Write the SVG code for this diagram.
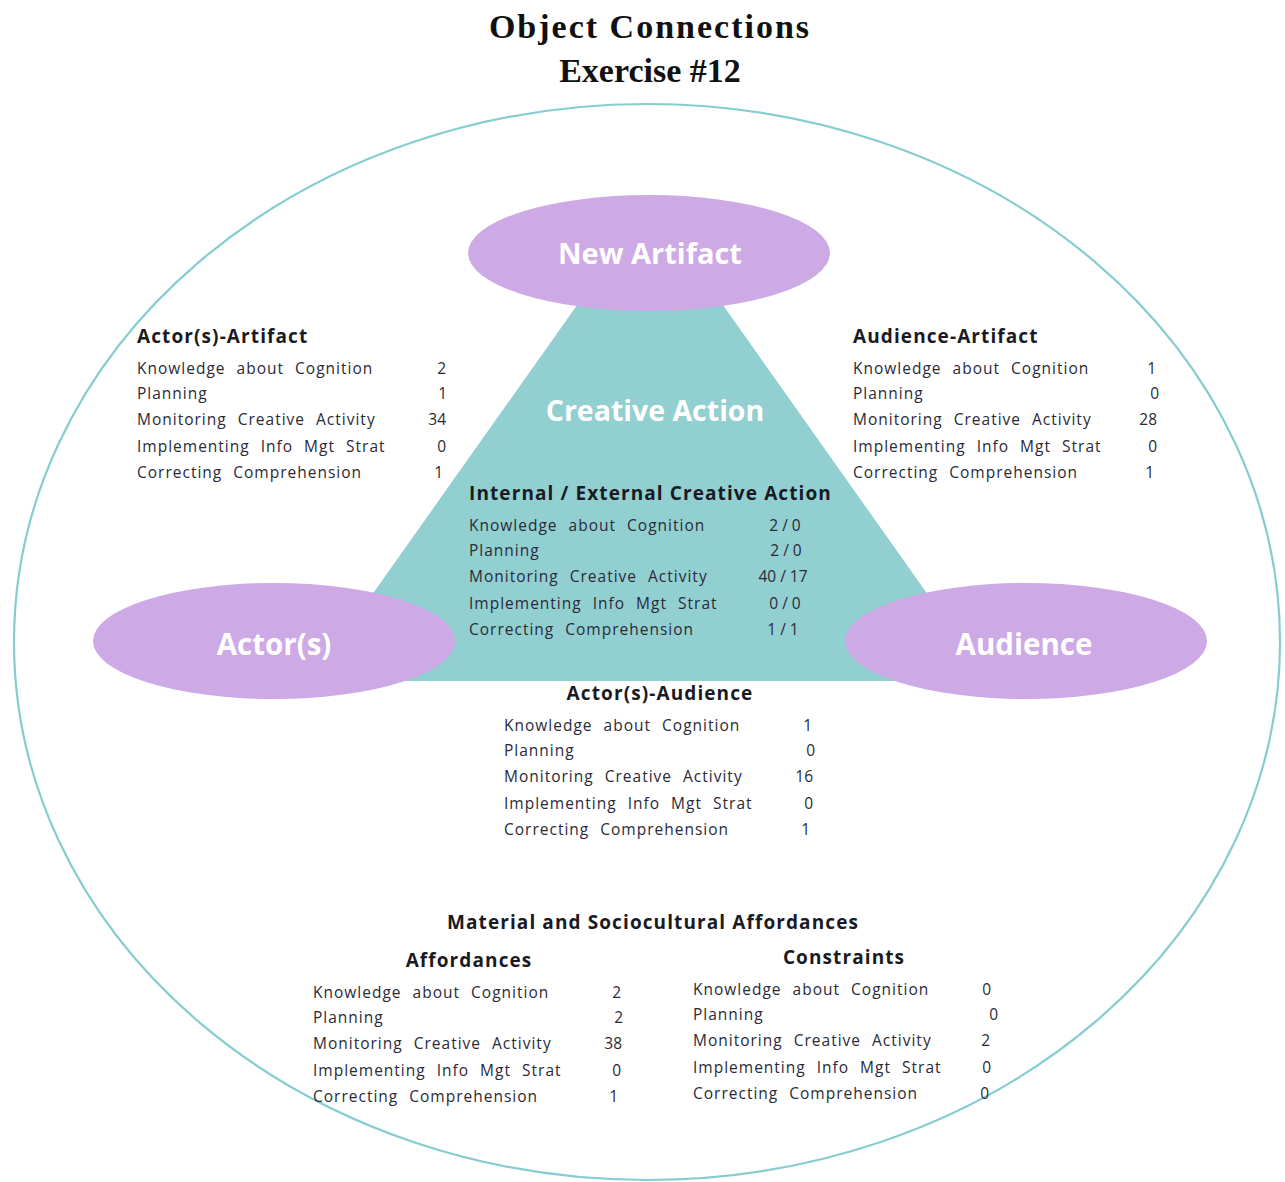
<svg xmlns="http://www.w3.org/2000/svg" width="1285" height="1182" viewBox="0 0 1285 1182">
  <style>
    .title { font-family: "Liberation Serif", "Times New Roman", serif; font-weight: bold; font-size: 34px; fill: #111; text-anchor: middle; }
    .node-fill { fill: #cdaae5; }
    .node-label { font-family: "Open Sans", "Liberation Sans", sans-serif; font-weight: bold; fill: #ffffff; text-anchor: middle; }
    .head { font-family: "Open Sans", "Liberation Sans", sans-serif; font-weight: bold; font-size: 19px; fill: #1a1a24; letter-spacing: 1.1px; }
    .row { font-family: "Open Sans", "Liberation Sans", sans-serif; font-size: 15.5px; fill: #2a2a38; letter-spacing: 1px; word-spacing: 6px; }
    .num { font-family: "Open Sans", "Liberation Sans", sans-serif; font-size: 15.5px; fill: #2a2a38; text-anchor: end; }
    .numc { font-family: "Open Sans", "Liberation Sans", sans-serif; font-size: 15.5px; fill: #2a2a38; text-anchor: middle; }
  </style>

  <rect width="1285" height="1182" fill="#ffffff"/>

  <!-- Title -->
  <text class="title" x="650" y="38" letter-spacing="2">Object Connections</text>
  <text class="title" x="650" y="82" font-size="35">Exercise #12</text>

  <!-- Outer context ellipse -->
  <g id="context">
    <ellipse cx="647" cy="642" rx="633" ry="538" fill="none" stroke="#86cdcf" stroke-width="2.2"/>
  </g>

  <!-- Creative action triangle -->
  <g id="creative-action">
    <polygon points="650,202 311,681 989,681" fill="#92cfd1"/>
    <text class="node-label" x="655" y="421" font-size="28.5">Creative Action</text>
    <text class="head" x="469" y="500">Internal / External Creative Action</text>
    <text class="row" x="469" y="531">Knowledge about Cognition</text>
    <text class="row" x="469" y="556">Planning</text>
    <text class="row" x="469" y="582">Monitoring Creative Activity</text>
    <text class="row" x="469" y="609">Implementing Info Mgt Strat</text>
    <text class="row" x="469" y="635">Correcting Comprehension</text>
    <text class="numc" x="785" y="531">2 / 0</text>
    <text class="numc" x="786" y="556">2 / 0</text>
    <text class="numc" x="783" y="582">40 / 17</text>
    <text class="numc" x="785" y="609">0 / 0</text>
    <text class="numc" x="783" y="635">1 / 1</text>
  </g>

  <!-- Nodes -->
  <g id="new-artifact">
    <ellipse class="node-fill" cx="649" cy="253" rx="181" ry="58"/>
    <text class="node-label" x="650" y="264" font-size="29">New Artifact</text>
  </g>
  <g id="actors">
    <ellipse class="node-fill" cx="274" cy="641" rx="181" ry="58"/>
    <text class="node-label" x="274" y="655" font-size="29.5">Actor(s)</text>
  </g>
  <g id="audience">
    <ellipse class="node-fill" cx="1026" cy="641" rx="181" ry="58"/>
    <text class="node-label" x="1024" y="655" font-size="29.5">Audience</text>
  </g>

  <!-- Actor(s)-Artifact relation -->
  <g id="actors-artifact">
    <text class="head" x="137" y="343">Actor(s)-Artifact</text>
    <text class="row" x="137" y="374">Knowledge about Cognition</text>
    <text class="row" x="137" y="399">Planning</text>
    <text class="row" x="137" y="425">Monitoring Creative Activity</text>
    <text class="row" x="137" y="452">Implementing Info Mgt Strat</text>
    <text class="row" x="137" y="478">Correcting Comprehension</text>
    <text class="num" x="446" y="374">2</text>
    <text class="num" x="447" y="399">1</text>
    <text class="num" x="446" y="425">34</text>
    <text class="num" x="446" y="452">0</text>
    <text class="num" x="443" y="478">1</text>
  </g>

  <!-- Audience-Artifact relation -->
  <g id="audience-artifact">
    <text class="head" x="853" y="343">Audience-Artifact</text>
    <text class="row" x="853" y="374">Knowledge about Cognition</text>
    <text class="row" x="853" y="399">Planning</text>
    <text class="row" x="853" y="425">Monitoring Creative Activity</text>
    <text class="row" x="853" y="452">Implementing Info Mgt Strat</text>
    <text class="row" x="853" y="478">Correcting Comprehension</text>
    <text class="num" x="1156" y="374">1</text>
    <text class="num" x="1159" y="399">0</text>
    <text class="num" x="1157" y="425">28</text>
    <text class="num" x="1157" y="452">0</text>
    <text class="num" x="1154" y="478">1</text>
  </g>

  <!-- Actor(s)-Audience relation -->
  <g id="actors-audience">
    <text class="head" x="660" y="700" text-anchor="middle">Actor(s)-Audience</text>
    <text class="row" x="504" y="731">Knowledge about Cognition</text>
    <text class="row" x="504" y="756">Planning</text>
    <text class="row" x="504" y="782">Monitoring Creative Activity</text>
    <text class="row" x="504" y="809">Implementing Info Mgt Strat</text>
    <text class="row" x="504" y="835">Correcting Comprehension</text>
    <text class="num" x="812" y="731">1</text>
    <text class="num" x="815" y="756">0</text>
    <text class="num" x="813" y="782">16</text>
    <text class="num" x="813" y="809">0</text>
    <text class="num" x="810" y="835">1</text>
  </g>

  <!-- Material and sociocultural affordances -->
  <g id="affordances">
    <text class="head" x="653" y="929" text-anchor="middle" letter-spacing="1.3">Material and Sociocultural Affordances</text>
    <text class="head" x="469" y="967" text-anchor="middle">Affordances</text>
    <text class="row" x="313" y="998">Knowledge about Cognition</text>
    <text class="row" x="313" y="1023">Planning</text>
    <text class="row" x="313" y="1049">Monitoring Creative Activity</text>
    <text class="row" x="313" y="1076">Implementing Info Mgt Strat</text>
    <text class="row" x="313" y="1102">Correcting Comprehension</text>
    <text class="num" x="621" y="998">2</text>
    <text class="num" x="623" y="1023">2</text>
    <text class="num" x="622" y="1049">38</text>
    <text class="num" x="621" y="1076">0</text>
    <text class="num" x="618" y="1102">1</text>
  </g>
  <g id="constraints">
    <text class="head" x="844" y="964" text-anchor="middle">Constraints</text>
    <text class="row" x="693" y="995">Knowledge about Cognition</text>
    <text class="row" x="693" y="1020">Planning</text>
    <text class="row" x="693" y="1046">Monitoring Creative Activity</text>
    <text class="row" x="693" y="1073">Implementing Info Mgt Strat</text>
    <text class="row" x="693" y="1099">Correcting Comprehension</text>
    <text class="num" x="991" y="995">0</text>
    <text class="num" x="998" y="1020">0</text>
    <text class="num" x="990" y="1046">2</text>
    <text class="num" x="991" y="1073">0</text>
    <text class="num" x="989" y="1099">0</text>
  </g>
</svg>
